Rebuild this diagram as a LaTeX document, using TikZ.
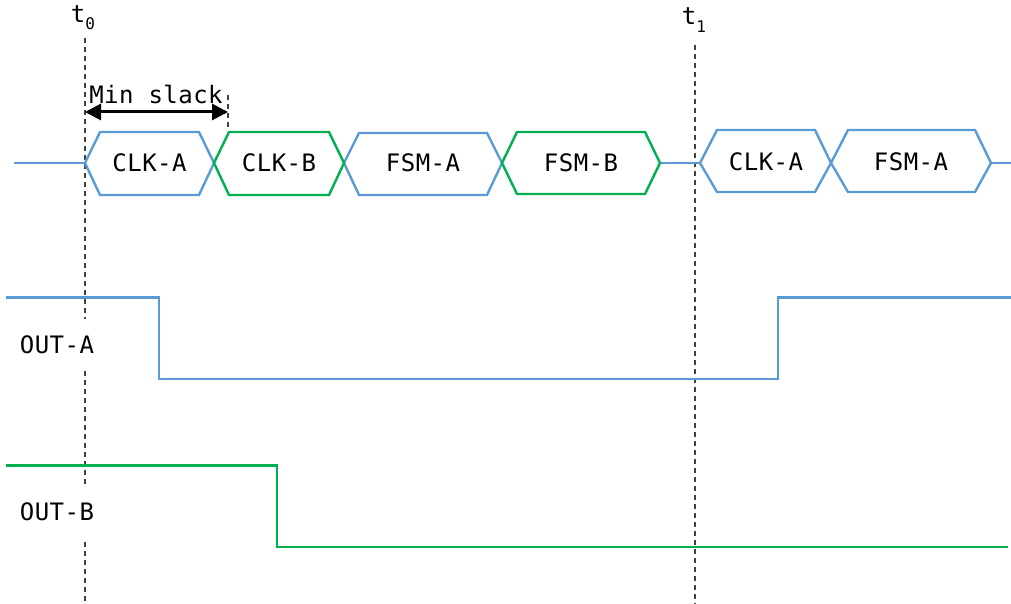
\documentclass[tikz,border=0pt]{standalone}
\usepackage{fontspec}
\setmonofont[LetterSpace=2]{DejaVu Sans Mono}
\usetikzlibrary{arrows.meta}
\definecolor{sigblue}{HTML}{5B9BD5}
\definecolor{siggreen}{HTML}{00B050}
\definecolor{guide}{HTML}{404040}
\begin{document}
\begin{tikzpicture}[x=1pt,y=-1pt,
  txt/.style={font=\ttfamily\fontsize{24}{28}\selectfont, inner sep=0pt, text=black},
  bluesig/.style={draw=sigblue, line width=2.4pt, line join=miter},
  greensig/.style={draw=siggreen, line width=2.4pt, line join=miter},
  guideline/.style={draw=guide, line width=1.6pt, dash pattern=on 5pt off 4pt},
  outlabel/.style={txt, fill=white, minimum height=52pt, inner xsep=2pt}]
\useasboundingbox (0,0) rectangle (1011,604);
% time markers
\node[txt] (t0) at (83,18) {t\raisebox{-0.3em}{\fontsize{16}{18}\selectfont 0}};
\node[txt] (t1) at (694,20) {t\raisebox{-0.3em}{\fontsize{16}{18}\selectfont 1}};
\coordinate (t0top) at (85,38);
\coordinate (t0bot) at (85,604);
\coordinate (t1top) at (695,45);
\coordinate (t1bot) at (695,604);
\draw[guideline] (t0top) -- (t0bot);
\draw[guideline] (t1top) -- (t1bot);
% min slack
\coordinate (msA) at (85,112);
\coordinate (msB) at (228,112);
\coordinate (msTickTop) at (228,95);
\coordinate (msTickBot) at (228,128);
\draw[guideline] (msTickTop) -- (msTickBot);
\draw[line width=3pt, {Triangle[length=16pt,width=16pt]}-{Triangle[length=16pt,width=16pt]}] (msA) -- (msB);
\node[txt] (minslack) at (156,94) {Min slack};
% bus
\coordinate (busL) at (14,163);
\coordinate (busR) at (1011,163);
\draw[bluesig] (busL) -- (85,163);
\draw[bluesig] (85,163) -- (100,132) -- (199,132) -- (214,163) -- (199,195) -- (100,195) -- cycle;
\draw[bluesig] (344,163) -- (359,133) -- (487,133) -- (502,163) -- (487,195) -- (359,195) -- cycle;
\draw[bluesig] (660,163) -- (700,163);
\draw[bluesig] (700,163) -- (717,130) -- (815,130) -- (831,163) -- (815,192) -- (717,192) -- cycle;
\draw[bluesig] (831,163) -- (848,130) -- (975,130) -- (991,163) -- (975,192) -- (848,192) -- cycle;
\draw[bluesig] (991,163) -- (busR);
\draw[greensig] (214,163) -- (229,132) -- (329,132) -- (344,163) -- (329,195) -- (229,195) -- cycle;
\draw[greensig] (502,163) -- (517,132) -- (645,132) -- (660,163) -- (645,194) -- (517,194) -- cycle;
\node[txt] (clka1) at (149.5,163) {CLK-A};
\node[txt] (clkb) at (279,163) {CLK-B};
\node[txt] (fsma1) at (423,163) {FSM-A};
\node[txt] (fsmb) at (581,163) {FSM-B};
\node[txt] (clka2) at (766,162) {CLK-A};
\node[txt] (fsma2) at (911,162) {FSM-A};
% outputs
\node[outlabel] (outa) at (57,345) {OUT-A};
\node[outlabel] (outb) at (57,512) {OUT-B};
\draw[bluesig] (6,297.5) -- (159,297.5) -- (159,379) -- (778,379) -- (778,297.5) -- (1011,297.5);
\draw[greensig] (6,465.5) -- (277,465.5) -- (277,547) -- (1008,547);
\end{tikzpicture}
\end{document}
